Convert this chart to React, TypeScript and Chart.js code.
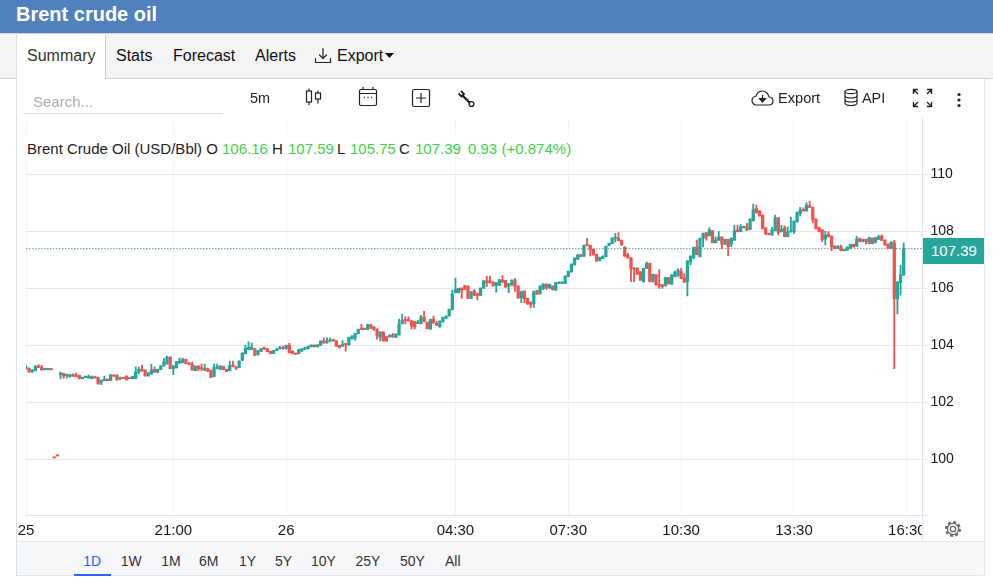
import React, { useEffect, useRef } from "react";
import { Chart, registerables } from "chart.js";

Chart.register(...registerables);

const FONT = '"Liberation Sans", Arial, sans-serif';
const UP = "#26a69a";
const DOWN = "#ef5350";

const title = "Brent crude oil";
const seriesName = "Brent Crude Oil (USD/Bbl)";
const navTabs = ["Summary", "Stats", "Forecast", "Alerts", "Export"];
const rangeLabels = ["1D", "1W", "1M", "6M", "1Y", "5Y", "10Y", "25Y", "50Y", "All"];
const yTicks = [100, 102, 104, 106, 108, 110];
const xTickIndex = [0, 47, 83, 137, 173, 209, 245, 281];
const xTickLabels = ["25", "21:00", "26", "04:30", "07:30", "10:30", "13:30", "16:30"];
const lastPrice = 107.39;

const opens = [
  103.17,103.19,103.09,103.11,103.27,103.23,103.15,103.15,103.16,100.09,
  100.16,102.97,103.02,102.94,102.90,102.98,102.96,102.95,102.83,102.88,
  102.86,102.83,102.90,102.88,102.69,102.76,102.82,102.76,102.96,102.96,
  102.83,102.85,102.92,102.84,102.83,102.83,103.06,103.16,103.13,102.93,
  103.00,103.16,103.06,103.16,103.28,103.35,103.59,103.18,103.22,103.38,
  103.39,103.51,103.39,103.33,103.11,103.27,103.18,103.13,103.19,103.12,
  102.90,103.18,103.16,103.26,103.16,103.11,103.31,103.25,103.22,103.47,
  103.71,103.86,103.86,103.89,103.67,103.79,103.93,103.88,103.79,103.72,
  103.82,103.88,103.90,103.88,104.01,103.80,103.72,103.71,103.80,103.87,
  103.88,103.95,104.01,103.95,104.00,104.16,104.09,104.14,104.19,104.16,
  104.00,103.97,104.04,104.02,104.23,104.26,104.41,104.58,104.58,104.56,
  104.71,104.65,104.57,104.29,104.47,104.31,104.30,104.36,104.28,104.37,
  104.76,104.89,104.91,104.86,104.83,104.77,104.76,104.99,104.81,104.57,
  104.91,104.77,104.65,104.82,104.95,105.03,105.25,105.85,105.85,106.01,
  106.10,106.08,105.65,105.90,105.82,105.75,106.01,106.26,106.26,106.22,
  106.09,106.10,106.29,106.27,106.07,106.11,106.29,106.08,105.66,105.90,
  105.65,105.52,105.46,105.92,105.81,105.97,106.15,106.01,106.08,105.94,
  106.17,106.17,106.17,106.41,106.58,106.82,107.02,107.18,107.13,107.51,
  107.51,107.37,107.19,106.97,107.04,107.11,107.50,107.57,107.76,107.76,
  107.68,107.45,107.17,107.07,106.72,106.71,106.58,106.23,106.70,106.88,
  106.23,106.47,106.14,106.12,106.09,106.38,106.15,106.41,106.44,106.61,
  106.38,106.23,106.93,107.07,107.46,107.11,107.75,107.95,107.85,108.02,
  107.60,107.69,107.80,107.55,107.72,107.54,107.69,108.05,107.99,108.13,
  108.16,108.07,108.37,108.81,108.72,108.57,108.12,107.93,107.87,108.02,
  108.47,107.99,108.12,107.81,107.98,107.99,108.33,108.63,108.75,108.72,
  108.89,108.84,108.43,108.14,108.05,107.73,107.89,107.83,107.48,107.40,
  107.46,107.32,107.34,107.40,107.54,107.48,107.75,107.64,107.72,107.57,
  107.76,107.60,107.72,107.83,107.69,107.55,107.40,107.60,105.64,106.20,
  106.46,
];

const closes = [
  103.24,103.07,103.13,103.27,103.23,103.14,103.16,103.16,103.15,100.05,
  100.12,103.03,102.92,102.95,102.96,102.92,102.90,102.83,102.88,102.90,
  102.91,102.91,102.86,102.65,102.77,102.82,102.76,102.96,102.92,102.79,
  102.85,102.84,102.79,102.83,102.91,103.06,103.16,103.10,102.93,103.03,
  103.13,103.06,103.16,103.28,103.43,103.59,103.18,103.27,103.43,103.45,
  103.51,103.37,103.32,103.14,103.27,103.18,103.17,103.19,103.09,102.88,
  103.23,103.25,103.28,103.16,103.09,103.30,103.25,103.20,103.45,103.73,
  103.90,103.93,103.93,103.65,103.82,103.89,103.86,103.78,103.71,103.82,
  103.88,103.89,103.88,104.00,103.74,103.71,103.69,103.85,103.88,103.92,
  103.97,104.01,103.95,104.02,104.15,104.09,104.15,104.15,104.16,103.97,
  103.93,104.04,104.03,104.28,104.33,104.42,104.56,104.56,104.56,104.73,
  104.60,104.54,104.33,104.47,104.16,104.16,104.36,104.30,104.40,104.75,
  104.89,104.86,104.86,104.68,104.65,104.78,104.99,104.83,104.59,104.91,
  104.79,104.70,104.85,104.98,105.03,105.26,105.80,105.96,106.00,105.94,
  105.96,105.65,105.88,105.75,105.75,106.01,106.26,106.20,106.19,106.09,
  106.20,106.31,106.22,106.04,106.17,106.29,106.07,105.66,105.89,105.64,
  105.45,105.42,105.89,105.80,106.08,106.15,106.03,106.14,105.95,106.20,
  106.22,106.22,106.43,106.60,106.85,107.06,107.17,107.11,107.51,107.50,
  107.35,107.17,106.97,107.09,107.13,107.47,107.58,107.76,107.77,107.67,
  107.52,107.13,107.07,106.68,106.68,106.50,106.29,106.70,106.88,106.23,
  106.49,106.12,106.07,106.06,106.38,106.16,106.47,106.56,106.62,106.35,
  106.22,106.96,107.13,107.44,107.18,107.75,107.93,107.80,108.05,107.60,
  107.69,107.80,107.55,107.72,107.46,107.76,108.03,107.99,108.16,108.16,
  108.05,108.43,108.75,108.65,108.54,108.09,107.90,107.88,108.05,108.47,
  107.95,108.07,107.81,107.97,108.00,108.36,108.67,108.75,108.72,108.92,
  108.84,108.40,108.09,107.99,107.72,107.87,107.81,107.45,107.40,107.48,
  107.32,107.36,107.45,107.54,107.45,107.72,107.64,107.72,107.64,107.78,
  107.57,107.78,107.82,107.68,107.52,107.41,107.62,105.64,106.22,106.47,
  107.39,
];

const highs = [
  103.30,103.21,103.15,103.29,103.33,103.30,103.17,103.17,103.17,100.09,
  100.16,103.06,103.03,102.99,102.98,103.00,103.03,102.96,102.89,102.91,
  102.96,102.93,102.92,102.89,102.79,102.92,102.83,102.98,102.97,102.97,
  102.89,102.86,102.93,102.85,102.92,103.24,103.24,103.31,103.14,103.05,
  103.34,103.25,103.17,103.29,103.54,103.62,103.60,103.29,103.44,103.55,
  103.55,103.52,103.40,103.41,103.28,103.28,103.34,103.34,103.20,103.13,
  103.34,103.34,103.29,103.27,103.17,103.45,103.45,103.26,103.46,103.74,
  104.01,104.12,104.08,103.90,103.83,103.90,103.94,103.89,103.80,103.83,
  103.89,103.97,103.97,104.01,104.07,103.81,103.73,103.86,103.89,103.93,
  103.98,104.02,104.02,104.03,104.16,104.26,104.26,104.26,104.22,104.17,
  104.01,104.17,104.05,104.29,104.34,104.43,104.57,104.74,104.60,104.74,
  104.75,104.66,104.58,104.48,104.48,104.32,104.37,104.42,104.41,104.92,
  105.09,105.00,105.00,104.87,104.84,104.88,105.05,105.19,104.82,104.92,
  105.03,104.84,104.86,104.99,105.04,105.27,105.94,106.36,106.01,106.02,
  106.11,106.09,105.89,105.96,105.83,106.02,106.27,106.43,106.43,106.23,
  106.21,106.32,106.45,106.28,106.18,106.30,106.35,106.09,105.90,105.91,
  105.66,105.53,105.90,105.93,106.09,106.16,106.16,106.15,106.09,106.21,
  106.23,106.23,106.44,106.61,106.86,107.07,107.18,107.19,107.52,107.75,
  107.52,107.38,107.20,107.10,107.14,107.48,107.59,107.77,107.93,107.96,
  107.69,107.46,107.23,107.08,106.73,106.72,106.59,106.71,106.93,106.89,
  106.50,106.48,106.66,106.13,106.39,106.39,106.48,106.61,106.69,106.70,
  106.52,106.97,107.14,107.45,107.69,107.76,107.94,107.96,108.13,108.03,
  107.81,107.99,107.81,107.73,107.73,107.77,108.22,108.22,108.24,108.18,
  108.28,108.44,108.96,108.92,108.73,108.58,108.13,107.94,108.14,108.57,
  108.48,108.21,108.19,108.16,108.49,108.37,108.68,108.84,108.82,109.00,
  109.06,108.85,108.44,108.15,108.06,108.01,107.99,107.84,107.49,107.49,
  107.52,107.37,107.46,107.55,107.55,107.83,107.76,107.73,107.73,107.80,
  107.77,107.79,107.87,107.88,107.70,107.56,107.63,107.68,106.24,106.82,
  107.59,
];

const lows = [
  103.16,103.05,103.04,103.10,103.22,103.13,103.14,103.14,103.14,100.05,
  100.12,102.82,102.85,102.85,102.88,102.91,102.89,102.82,102.82,102.87,
  102.85,102.82,102.85,102.64,102.62,102.75,102.75,102.75,102.91,102.78,
  102.79,102.83,102.78,102.82,102.82,102.82,103.00,103.09,102.92,102.92,
  102.99,103.05,103.03,103.15,103.27,103.34,103.17,102.97,103.20,103.37,
  103.38,103.36,103.31,103.13,103.10,103.11,103.11,103.12,103.08,102.87,
  102.89,103.17,103.15,103.15,103.08,103.10,103.24,103.15,103.21,103.46,
  103.70,103.85,103.85,103.64,103.66,103.78,103.85,103.77,103.70,103.71,
  103.81,103.87,103.87,103.87,103.73,103.70,103.67,103.70,103.79,103.86,
  103.87,103.94,103.94,103.94,103.99,104.08,104.08,104.13,104.15,103.96,
  103.90,103.96,103.80,104.01,104.22,104.18,104.40,104.55,104.55,104.55,
  104.59,104.53,104.22,104.16,104.15,104.15,104.29,104.29,104.27,104.36,
  104.75,104.75,104.85,104.58,104.58,104.76,104.75,104.82,104.58,104.56,
  104.78,104.69,104.64,104.81,104.94,105.02,105.24,105.84,105.84,105.65,
  105.95,105.64,105.64,105.74,105.59,105.74,106.00,106.06,106.18,106.08,
  105.87,106.09,106.21,106.03,105.85,106.10,105.89,105.65,105.50,105.50,
  105.44,105.31,105.33,105.79,105.80,105.96,105.96,106.00,105.94,105.93,
  106.16,106.16,106.16,106.40,106.57,106.81,107.01,107.10,107.12,107.49,
  107.14,107.16,106.93,106.96,107.03,107.10,107.49,107.56,107.62,107.66,
  107.51,107.12,107.06,106.23,106.23,106.49,106.28,106.22,106.69,106.22,
  106.22,106.11,106.00,106.00,106.08,106.15,106.14,106.40,106.43,106.34,
  106.21,105.73,106.82,107.03,107.17,107.10,107.45,107.69,107.84,107.59,
  107.59,107.68,107.39,107.54,107.14,107.45,107.68,107.98,107.98,108.12,
  108.02,108.06,108.36,108.64,108.53,108.08,107.89,107.87,107.86,108.01,
  107.87,107.98,107.80,107.80,107.97,107.93,108.32,108.54,108.71,108.71,
  108.83,108.30,108.08,107.98,107.64,107.52,107.80,107.32,107.39,107.39,
  107.31,107.31,107.33,107.39,107.44,107.47,107.63,107.63,107.55,107.56,
  107.56,107.59,107.71,107.67,107.51,107.40,107.39,103.18,105.10,105.76,
  106.45,
];

const iconStroke = "#222";

function T({ x, y, size = 14, color = "#212529", bold = false, children }: any) {
  return (
    <div
      style={{
        position: "absolute",
        left: x,
        top: y - 12,
        height: 24,
        lineHeight: "24px",
        fontSize: size,
        fontWeight: bold ? 700 : 400,
        color,
        whiteSpace: "nowrap",
      }}
    >
      {children}
    </div>
  );
}

function Box({ x, y, w, h, c, style }: any) {
  return <div style={{ position: "absolute", left: x, top: y, width: w, height: h, background: c, ...style }} />;
}

function Icon({ x, y, w, h, children }: any) {
  return (
    <svg
      style={{ position: "absolute", left: x, top: y }}
      width={w}
      height={h}
      viewBox={`0 0 ${w} ${h}`}
      fill="none"
      stroke={iconStroke}
      strokeWidth={1.2}
    >
      {children}
    </svg>
  );
}

export default function App() {
  const ref = useRef<HTMLCanvasElement | null>(null);

  useEffect(() => {
    const labels: string[] = [];
    for (let i = 0; i <= 286; i++) labels.push(String(i));
    const colors = opens.map((o, i) => (closes[i] >= o ? UP : DOWN));

    const chart = new Chart(ref.current as HTMLCanvasElement, {
      type: "bar",
      data: {
        labels,
        datasets: [
          {
            type: "line",
            data: labels.map(() => lastPrice),
            borderColor: "#5e8f8b",
            borderWidth: 1,
            borderDash: [1.5, 1.5],
            pointRadius: 0,
            order: 3,
          },
          {
            type: "bar",
            data: lows.map((l, i) => [l, highs[i]]),
            backgroundColor: colors,
            barThickness: 1.2,
            grouped: false,
            borderSkipped: false,
            order: 2,
          },
          {
            type: "bar",
            data: opens.map((o, i) => [o, closes[i]]),
            backgroundColor: colors,
            barThickness: 2.6,
            minBarLength: 1.2,
            grouped: false,
            borderSkipped: false,
            order: 1,
          },
        ] as any,
      },
      options: {
        animation: false,
        responsive: false,
        events: [],
        layout: { padding: { left: 9, top: 39, right: 0, bottom: 0 } },
        plugins: { legend: { display: false }, tooltip: { enabled: false } },
        scales: {
          x: {
            type: "category",
            offset: false,
            afterBuildTicks: (s: any) => {
              s.ticks = xTickIndex.map((v) => ({ value: v }));
            },
            afterFit: (s: any) => {
              s.height = 26;
            },
            grid: { color: "#f0f3fa", offset: false, drawTicks: true, tickLength: 7, tickColor: "transparent" },
            border: { color: "#e0e3eb" },
            ticks: {
              autoSkip: false,
              maxRotation: 0,
              padding: 0,
              color: "#131722",
              font: { family: FONT, size: 15 },
              callback: (v: any) => {
                const k = xTickIndex.indexOf(Number(v));
                return k >= 0 ? xTickLabels[k] : "";
              },
            },
          },
          y: {
            position: "right",
            min: 98.05,
            max: 111.975,
            afterBuildTicks: (s: any) => {
              s.ticks = yTicks.map((v) => ({ value: v }));
            },
            afterFit: (s: any) => {
              s.width = 61.5;
            },
            grid: { color: "#e6e6e6", tickLength: 4, tickColor: "#e6e6e6" },
            border: { color: "#e0e3eb" },
            ticks: {
              padding: 4,
              color: "#131722",
              font: { family: FONT, size: 14 },
              callback: (v: any) => String(v),
            },
          },
        },
      },
    } as any);
    return () => chart.destroy();
  }, []);

  return (
    <div
      style={{
        position: "absolute",
        left: 0,
        top: 0,
        width: 993,
        height: 586,
        background: "#fff",
        overflow: "hidden",
        fontFamily: FONT,
      }}
    >
      {/* header */}
      <Box x={0} y={0} w={993} h={33} c="#4f81bd" />
      <Box x={0} y={33} w={993} h={1} c="#d5d5d5" />
      <T x={16} y={14} size={20} bold color="#fff">{title}</T>

      {/* tab strip */}
      <Box x={0} y={34} w={993} h={44} c="#f4f4f4" />
      <Box x={0} y={78} w={993} h={1} c="#cfcfcf" />
      <Box x={17} y={34} w={88} h={45} c="#fff" />
      <Box x={16} y={34} w={1} h={542} c="#dcdfe3" />
      <Box x={105} y={34} w={1} h={45} c="#cfcfcf" />
      <Box x={984} y={79} w={1} h={497} c="#e3e5e8" />
      <T x={27} y={56} size={16} color="#333">{navTabs[0]}</T>
      <T x={116} y={56} size={16} color="#111">{navTabs[1]}</T>
      <T x={173} y={56} size={16} color="#111">{navTabs[2]}</T>
      <T x={255} y={56} size={16} color="#111">{navTabs[3]}</T>
      <T x={337} y={56} size={16} color="#111">{navTabs[4]}</T>
      <Icon x={314} y={47} w={18} h={18}>
        <path d="M9 1.5 V11 M5.5 8 L9 11.5 L12.5 8 M1.5 11.5 V15.5 H16.5 V11.5" strokeLinecap="round" />
      </Icon>
      <svg style={{ position: "absolute", left: 385, top: 53 }} width={9} height={5}>
        <path d="M0 0 H9 L4.5 5 Z" fill="#111" />
      </svg>

      {/* chart canvas */}
      <canvas
        ref={ref}
        width={967}
        height={462}
        style={{ position: "absolute", left: 17, top: 79, width: 967, height: 462 }}
      />

      {/* toolbar */}
      <T x={33} y={102} size={15} color="#aaa">Search...</T>
      <Box x={23} y={113} w={200} h={1} c="#dddddd" />
      <T x={250} y={98} size={14.4} color="#222">5m</T>
      <Icon x={305} y={88} w={18} h={18}>
        <path d="M4 0.5 V3 M4 14 V17 M13 2.5 V5 M13 11 V15.5" />
        <rect x="1.5" y="3" width="5" height="11" />
        <rect x="10.5" y="5" width="5" height="6" />
      </Icon>
      <Icon x={358} y={86} w={20} h={21}>
        <rect x="1.5" y="3.5" width="17" height="16" rx="1.5" />
        <path d="M1.5 7.5 H18.5 M5 1 V4 M15 1 V4" />
        <path d="M6 11.5 H7 M9.5 11.5 H10.5 M13 11.5 H14" strokeWidth={1.6} />
      </Icon>
      <Icon x={411} y={88} w={20} h={20}>
        <rect x="1.5" y="1.5" width="17" height="17" rx="1.5" />
        <path d="M10 5 V15 M5 10 H15" />
      </Icon>
      <Icon x={457} y={90} w={19} h={18}>
        <path d="M5 5 L13 13" strokeWidth={2.4} />
        <path d="M1.5 3.5 L4.5 6.5 L7 4 L4 1" strokeWidth={1.8} />
        <circle cx="14.5" cy="14" r="2.4" strokeWidth={1.4} />
      </Icon>
      <Icon x={751} y={89} w={23} h={18}>
        <path d="M5 16 H17.5 C20.5 16 22 14 22 12 C22 10 20.5 8.2 18 8 C17.5 4.5 14.5 2 11.5 2 C8.5 2 6 4 5.2 7 C2.5 7.5 1 9.5 1 11.5 C1 14 3 16 5 16 Z" />
        <path d="M11.5 6 V10 M8.5 9.5 L11.5 13 L14.5 9.5 Z" fill="#222" />
      </Icon>
      <T x={778} y={98} size={14.6} color="#222">Export</T>
      <Icon x={843} y={88} w={16} h={19}>
        <ellipse cx="8" cy="3.5" rx="6" ry="2.2" />
        <path d="M2 3.5 V15 C2 16.5 4.5 17.5 8 17.5 C11.5 17.5 14 16.5 14 15 V3.5 M2 7.5 C2 9 4.5 10 8 10 C11.5 10 14 9 14 7.5 M2 11.5 C2 13 4.5 14 8 14 C11.5 14 14 13 14 11.5" />
      </Icon>
      <T x={862} y={98} size={14.4} color="#222">API</T>
      <Icon x={912} y={88} w={21} h={20}>
        <path d="M1.5 6 V1.5 H6 M1.5 1.5 L6 6 M19.5 6 V1.5 H15 M19.5 1.5 L15 6 M1.5 14 V18.5 H6 M1.5 18.5 L6 14 M19.5 14 V18.5 H15 M19.5 18.5 L15 14" strokeWidth={1.4} />
      </Icon>
      <svg style={{ position: "absolute", left: 956, top: 92 }} width={6} height={16}>
        <circle cx="3" cy="2.5" r="1.6" fill="#222" />
        <circle cx="3" cy="8" r="1.6" fill="#222" />
        <circle cx="3" cy="13.5" r="1.6" fill="#222" />
      </svg>

      {/* OHLC legend */}
      <Box x={26} y={134} w={546} h={28} c="#fff" />
      <T x={27} y={149} size={15} color="#222">{seriesName} O</T>
      <T x={222} y={149} size={15} color="#3fd24c">106.16</T>
      <T x={272} y={149} size={15} color="#222">H</T>
      <T x={288} y={149} size={15} color="#3fd24c">107.59</T>
      <T x={337} y={149} size={15} color="#222">L</T>
      <T x={350} y={149} size={15} color="#3fd24c">105.75</T>
      <T x={399} y={149} size={15} color="#222">C</T>
      <T x={415} y={149} size={15} color="#3fd24c">107.39</T>
      <T x={468} y={149} size={15} color="#3fd24c">0.93</T>
      <T x={501.5} y={149} size={15} color="#3fd24c">(+0.874%)</T>

      {/* clip of the time axis and price tag */}
      <Box x={923} y={516} w={61} h={25} c="#fff" />
      <Box x={922} y={515} w={1} h={26} c="#e0e3eb" />
      <Box x={923} y={515} w={4} h={1} c="#e0e3eb" />
      <Box x={923} y={238} w={61} h={26} c={UP} />
      <T x={931} y={251} size={15} color="#fff">107.39</T>
      <svg style={{ position: "absolute", left: 944, top: 520 }} width={18} height={18} viewBox="0 0 18 18" fill="none" stroke="#666">
        <circle cx="9" cy="9" r="2.7" strokeWidth={1.3} />
        <circle cx="9" cy="9" r="5.6" strokeWidth={1.2} />
        <circle cx="9" cy="9" r="7" strokeWidth={2} strokeDasharray="3 2.5" />
      </svg>

      {/* range bar */}
      <Box x={17} y={541} w={967} h={35} c="#f7f8fa" style={{ borderTop: "1px solid #e3e5e8", borderBottom: "1px solid #e3e5e8", boxSizing: "border-box", borderBottomRightRadius: 3 }} />
      <Box x={74} y={574} w={37} h={2} c="#2962ff" />
      {rangeLabels.map((t, i) => (
        <T
          key={t}
          x={[83.3, 120.7, 161.3, 199, 239, 275, 311, 355.5, 400, 445][i]}
          y={561}
          size={14}
          color={i === 0 ? "#2962ff" : "#333"}
        >
          {t}
        </T>
      ))}
    </div>
  );
}
